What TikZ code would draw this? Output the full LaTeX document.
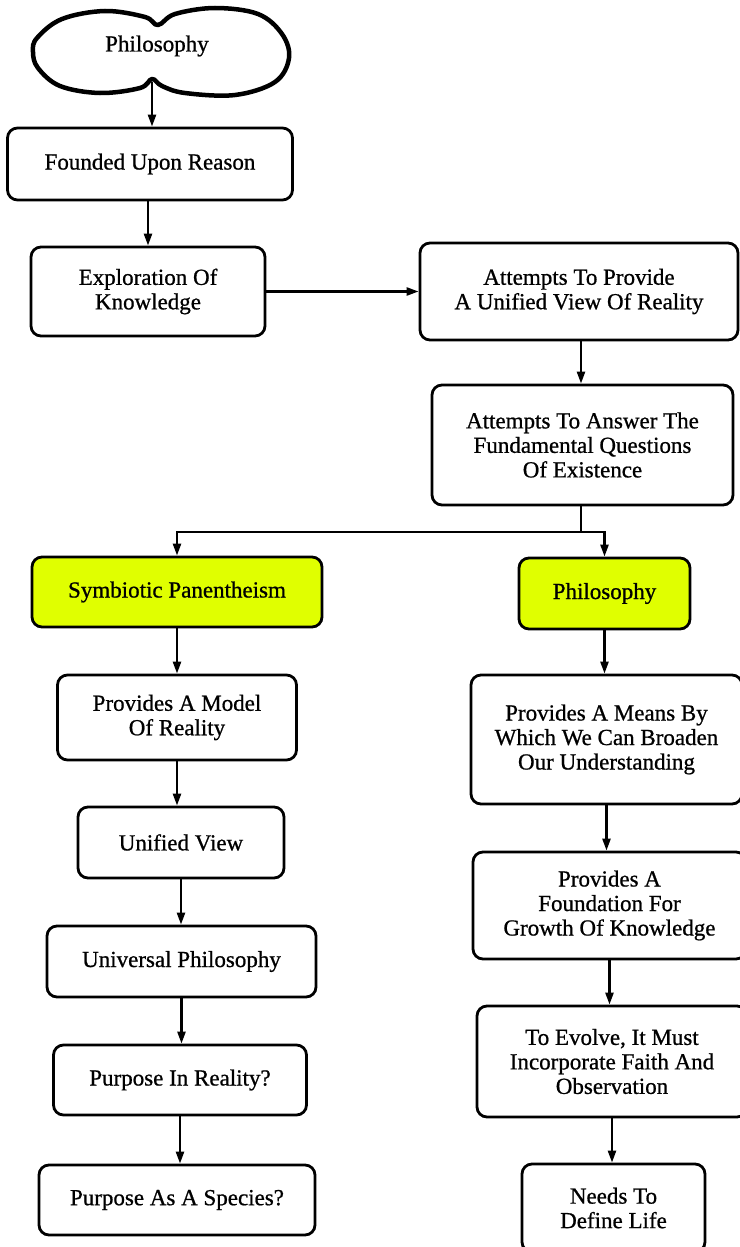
\documentclass[tikz,border=0pt]{standalone}
\usepackage{fontspec}
\setmainfont{Liberation Serif}[FakeBold=0.8]
\usetikzlibrary{arrows.meta}
\definecolor{hilite}{RGB}{224,255,0}

\begin{document}
\begin{tikzpicture}[x=1pt,y=1pt,>={Triangle[length=12pt,width=8pt]},line width=2.4pt,
  box/.style={draw,rounded corners=10pt,line width=2.8pt,align=center,inner sep=0pt},
  keybox/.style={box,fill=hilite},
  every node/.style={font=\fontsize{23}{24.5}\selectfont}]
\useasboundingbox (0,0) rectangle (739,-1247);
% top chain
\node (cloud) at (157,-46) {Philosophy};
\draw[line width=4.5pt,line join=round] plot[smooth cycle,tension=0.6] coordinates {
  (37,-38) (62,-19) (105,-11) (145,-17) (158,-25) (175,-14) (215,-8)
  (258,-14) (282,-34) (289,-58) (275,-82) (235,-95) (185,-93) (162,-86)
  (152,-79) (140,-88) (100,-93) (60,-86) (38,-68) (33,-52)};
\coordinate (cloudfoot) at (152,-82);
\node[box,minimum width=285pt,minimum height=72pt] (f1) at (150,-164) {Founded Upon Reason};
\node[box,minimum width=234pt,minimum height=89pt] (f2) at (148,-291.5) {Exploration Of\\Knowledge};
\node[box,minimum width=318pt,minimum height=97pt] (f3) at (579,-291.5) {Attempts To Provide\\A Unified View Of Reality};
\node[box,minimum width=301pt,minimum height=120pt] (f4) at (582.5,-445) {Attempts To Answer The\\Fundamental Questions\\Of Existence};
\coordinate (fork) at (581,-532);
% left branch
\node[keybox,minimum width=290pt,minimum height=70pt] (s1) at (177,-592) {Symbiotic Panentheism};
\node[box,minimum width=239pt,minimum height=85pt] (s2) at (177,-717.5) {Provides A Model\\Of Reality};
\node[box,minimum width=206pt,minimum height=71pt] (s3) at (181,-842.5) {Unified View};
\node[box,minimum width=269pt,minimum height=71pt] (s4) at (181.5,-961.5) {Universal Philosophy};
\node[box,minimum width=253pt,minimum height=70pt] (s5) at (180,-1080) {Purpose In Reality?};
\node[box,minimum width=276pt,minimum height=70pt] (s6) at (177,-1200) {Purpose As A Species?};
% right branch
\node[keybox,minimum width=171pt,minimum height=71pt] (p1) at (604.5,-593.5) {Philosophy};
\node[box,minimum width=271pt,minimum height=129pt] (p2) at (606.5,-739.5) {Provides A Means By\\Which We Can Broaden\\Our Understanding};
\node[box,minimum width=273pt,minimum height=107pt] (p3) at (609.5,-905.5) {Provides A\\Foundation For\\Growth Of Knowledge};
\node[box,minimum width=270pt,minimum height=111pt] (p4) at (612,-1061.5) {To Evolve, It Must\\Incorporate Faith And\\Observation};
\node[box,minimum width=183pt,minimum height=88pt] (p5) at (613.5,-1208) {Needs To\\Define Life};
% connectors
\draw[->] (cloudfoot) -- (cloudfoot |- f1.north);
\draw[->] (f1.south -| f2.north) -- (f2.north);
\draw[->] (f2.east) -- (f2.east -| f3.west);
\draw[->] (f3.south -| fork) -- (f4.north -| fork);
\draw (f4.south -| fork) -- (fork);
\draw[->] (fork) -| (s1.north);
\draw[->] (fork) -| (p1.north);
\draw[->] (s1.south) -- (s1.south |- s2.north);
\draw[->] (s2.south) -- (s2.south |- s3.north);
\draw[->] (s3.south) -- (s3.south |- s4.north);
\draw[->] (s4.south) -- (s4.south |- s5.north);
\draw[->] (s5.south) -- (s5.south |- s6.north);
\draw[->] (p1.south) -- (p1.south |- p2.north);
\draw[->] (p2.south) -- (p2.south |- p3.north);
\draw[->] (p3.south) -- (p3.south |- p4.north);
\draw[->] (p4.south) -- (p4.south |- p5.north);
\end{tikzpicture}
\end{document}
